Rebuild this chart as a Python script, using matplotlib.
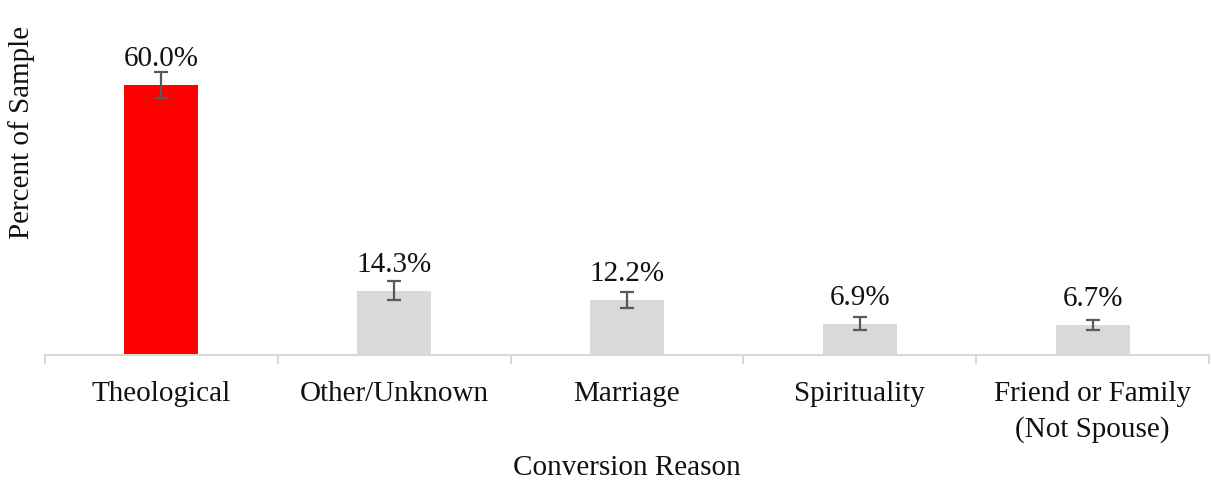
import matplotlib
matplotlib.use("Agg")
import matplotlib.pyplot as plt
import numpy as np

categories = ["Theological", "Other/Unknown", "Marriage", "Spirituality", "Friend or Family\n(Not Spouse)"]
values = [60.0, 14.3, 12.2, 6.9, 6.7]
errors = [2.8, 2.1, 1.8, 1.45, 1.1]
labels = ["60.0%", "14.3%", "12.2%", "6.9%", "6.7%"]
colors = ["#FF0000", "#D9D9D9", "#D9D9D9", "#D9D9D9", "#D9D9D9"]

plt.rcParams['font.family'] = ['Liberation Serif', 'DejaVu Serif']
FS = 21

W, H = 1211, 487
fig = plt.figure(figsize=(W / 100, H / 100), dpi=100)
ax = fig.add_axes([45 / W, (H - 355) / H, 1164 / W, 315 / H])

x = np.arange(len(categories))
ax.bar(x, values, width=0.318, color=colors, zorder=2)
ax.errorbar(x, values, yerr=errors, fmt='none', ecolor='#595959',
            elinewidth=1.6, capsize=5, capthick=1.6, zorder=3)
for xi, v, lab in zip(x, values, labels):
    ax.annotate(lab, (xi, v), xytext=(0, 13.5), textcoords='offset points',
                ha='center', va='baseline', fontsize=FS, color='#111111')

ax.set_xlim(-0.5, len(categories) - 0.5)
ax.set_ylim(0, 70)
for s in ['left', 'right', 'top']:
    ax.spines[s].set_visible(False)
ax.spines['bottom'].set_color('#D9D9D9')
ax.spines['bottom'].set_linewidth(1.5)
ax.set_yticks([])
ax.set_xticks(x)
ax.set_xticklabels(categories, fontsize=FS, linespacing=1.45, color='#111111', va='top')
ax.tick_params(axis='x', which='major', length=0, pad=18.5)
ax.set_xticks(np.arange(-0.5, len(categories), 1.0), minor=True)
ax.tick_params(axis='x', which='minor', length=6.5, width=1.5, color='#D9D9D9')

fig.text(22 / W, 1 - 132 / H, "Percent of Sample", rotation=90, ha='center', va='center',
         fontsize=FS, color='#111111')
fig.text(627 / W, 1 - 468 / H, "Conversion Reason", ha='center', va='center',
         fontsize=FS, color='#111111')

fig.savefig("out.png", dpi=100)
